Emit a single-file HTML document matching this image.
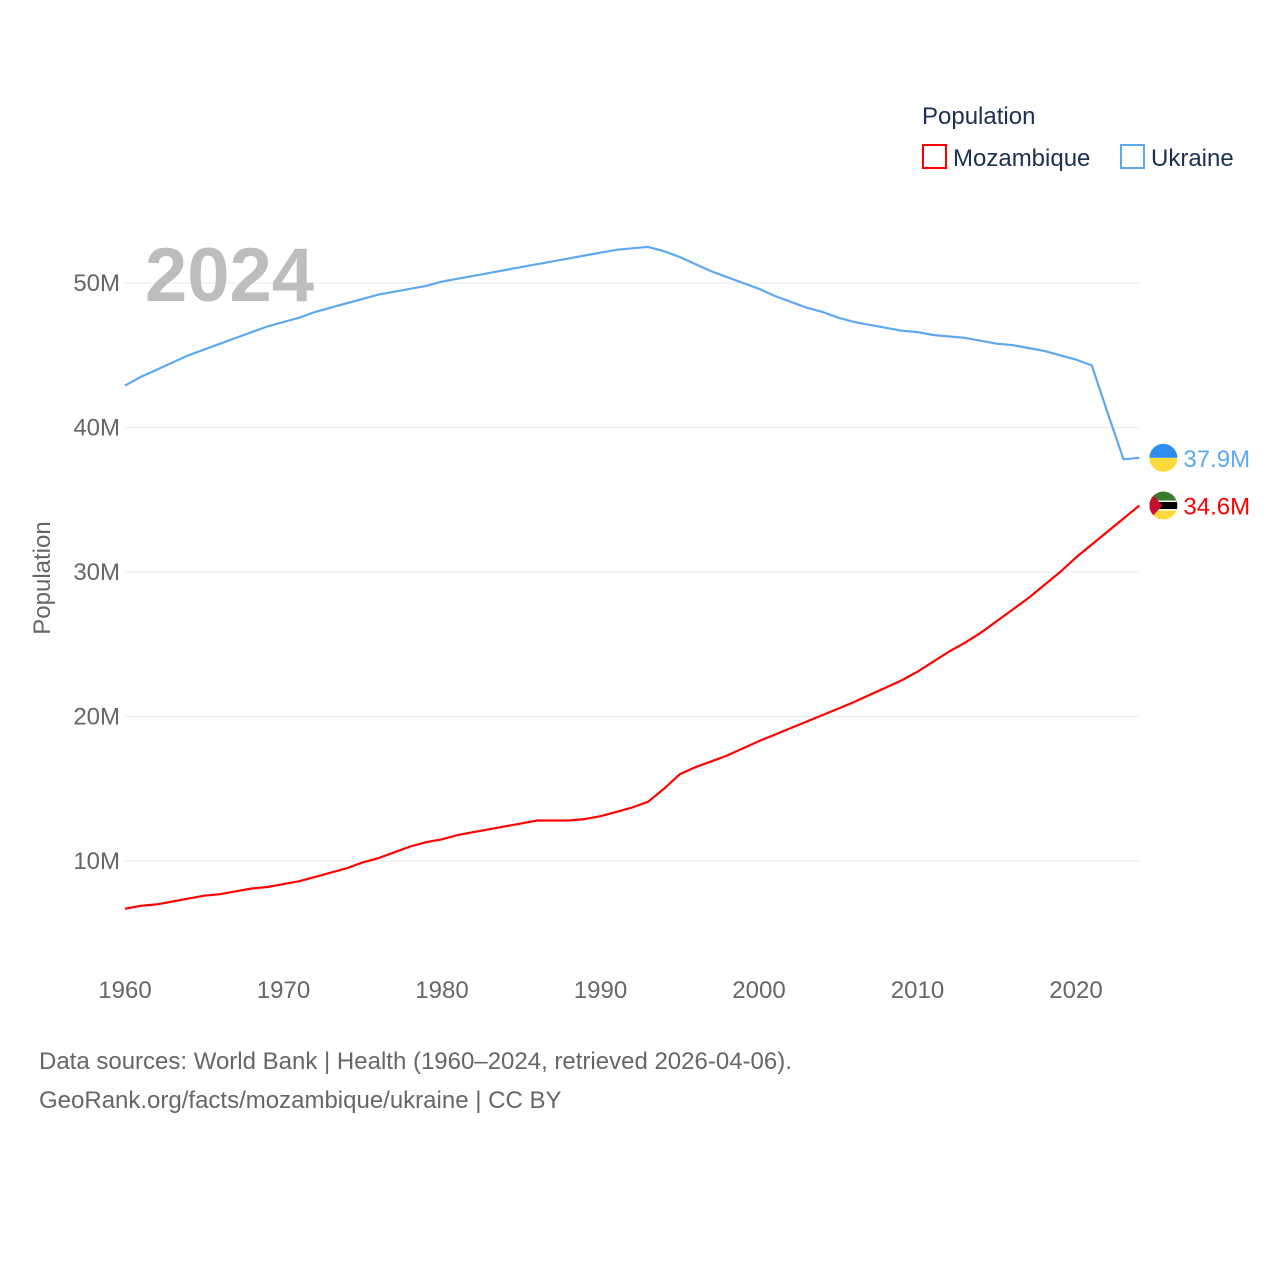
<!DOCTYPE html>
<html><head><meta charset="utf-8"><style>
body{margin:0;background:#fff;}
svg text{font-family:"Liberation Sans",sans-serif;}
</style></head><body>
<svg id="chart" width="1280" height="1280" viewBox="0 0 1280 1280" xmlns="http://www.w3.org/2000/svg">
<g id="grid"></g>
<g id="yticks"></g>
<g id="xticks"></g>
<text x="145" y="301" font-size="76" font-weight="bold" fill="#bdbdbd">2024</text>
<text transform="translate(50,578) rotate(-90)" text-anchor="middle" font-size="24" fill="#666">Population</text>
<g id="series"></g>
<g>
<text x="922" y="124" font-size="24" fill="#1b3050">Population</text>
<rect x="923" y="145" width="23" height="23" fill="none" stroke="#f00" stroke-width="2"/>
<text x="953" y="166" font-size="24" fill="#1b3050">Mozambique</text>
<rect x="1121" y="145" width="23" height="23" fill="none" stroke="#5ea8f0" stroke-width="2"/>
<text x="1151" y="166" font-size="24" fill="#1b3050">Ukraine</text>
</g>
<text x="39" y="1069" font-size="24" fill="#666">Data sources: World Bank | Health (1960–2024, retrieved 2026-04-06).</text>
<text x="39" y="1108" font-size="24" fill="#666">GeoRank.org/facts/mozambique/ukraine | CC BY</text>
</svg>
<script>
const years=[];for(let y=1960;y<=2024;y++)years.push(y);
const ukraine=[42.9,43.5,44.0,44.5,45.0,45.4,45.8,46.2,46.6,47.0,
47.3,47.6,48.0,48.3,48.6,48.9,49.2,49.4,49.6,49.8,
50.1,50.3,50.5,50.7,50.9,51.1,51.3,51.5,51.7,51.9,
52.1,52.3,52.4,52.5,52.2,51.8,51.3,50.8,50.4,50.0,
49.6,49.1,48.7,48.3,48.0,47.6,47.3,47.1,46.9,46.7,
46.6,46.4,46.3,46.2,46.0,45.8,45.7,45.5,45.3,45.0,
44.7,44.3,41.0,37.8,37.9];
const mozambique=[6.7,6.9,7.0,7.2,7.4,7.6,7.7,7.9,8.1,8.2,
8.4,8.6,8.9,9.2,9.5,9.9,10.2,10.6,11.0,11.3,
11.5,11.8,12.0,12.2,12.4,12.6,12.8,12.8,12.8,12.9,
13.1,13.4,13.7,14.1,15.0,16.0,16.5,16.9,17.3,17.8,
18.3,18.75,19.2,19.65,20.1,20.55,21.0,21.5,22.0,22.5,
23.1,23.8,24.5,25.1,25.8,26.6,27.4,28.2,29.1,30.0,
31.0,31.9,32.8,33.7,34.6];
const yTicks=[10,20,30,40,50];
const yTickLabels=["10M","20M","30M","40M","50M"];
const xTicks=[1960,1970,1980,1990,2000,2010,2020];
const endLabels=["37.9M","34.6M"];

const NS="http://www.w3.org/2000/svg";
const X=y=>125+(y-1960)*(1076-125)/60;
const Y=v=>1005.5-v*14.45;
function mk(tag,attrs,parent){const e=document.createElementNS(NS,tag);for(const k in attrs)e.setAttribute(k,attrs[k]);parent.appendChild(e);return e;}
const grid=document.getElementById('grid'),yt=document.getElementById('yticks'),xt=document.getElementById('xticks'),ser=document.getElementById('series');
yTicks.forEach((v,i)=>{
 const l=mk('line',{x1:125,x2:1139,y1:Y(v),y2:Y(v),stroke:'#e8e8e8','stroke-width':1},grid);
 
 
 const t=mk('text',{x:120,y:Y(v)+8,'text-anchor':'end','font-size':24,fill:'#666'},yt);
 
 
 t.textContent=yTickLabels[i];
});
xTicks.forEach(yr=>{
 const t=mk('text',{x:X(yr),y:998,'text-anchor':'middle','font-size':24,fill:'#666'},xt);
 
 
 t.textContent=yr;
});
function line(data,color,name){
 const d=data.map((v,i)=>(i?'L':'M')+X(years[i]).toFixed(1)+','+Y(v).toFixed(1)).join('');
 const p=mk('path',{d:d,fill:'none',stroke:color,'stroke-width':2.2,'stroke-linejoin':'round'},ser);
 
 
}
line(ukraine,'#5ea8f0','line-ukraine');
line(mozambique,'#f00','line-mozambique');
const uy=Y(ukraine[ukraine.length-1]),my=Y(mozambique[mozambique.length-1]);
const lx=X(2024);
const g1=mk('g',{},ser);


mk('path',{d:`M${lx+10},${uy} A14,14 0 0 1 ${lx+38},${uy} Z`,fill:'#2d8cf0'},g1);
mk('path',{d:`M${lx+10},${uy} A14,14 0 0 0 ${lx+38},${uy} Z`,fill:'#ffd83b'},g1);
const t1=mk('text',{x:lx+44,y:uy+9,'font-size':24,fill:'#5ea8f0'},ser);


t1.textContent=endLabels[0];
const g2=mk('g',{},ser);


const cx=lx+24,cy=my;
const clip=mk('clipPath',{id:'mc'},g2);
mk('circle',{cx:cx,cy:cy,r:14},clip);
const inner=mk('g',{'clip-path':'url(#mc)'},g2);
mk('rect',{x:cx-14,y:cy-14,width:28,height:10,fill:'#3a7a2a'},inner);
mk('rect',{x:cx-14,y:cy-4,width:28,height:8,fill:'#000'},inner);
mk('rect',{x:cx-14,y:cy-5,width:28,height:1.5,fill:'#fff'},inner);
mk('rect',{x:cx-14,y:cy+3.5,width:28,height:1.5,fill:'#fff'},inner);
mk('rect',{x:cx-14,y:cy+5,width:28,height:9,fill:'#ffd83b'},inner);
mk('path',{d:`M${cx-14},${cy-14} L${cx-1},${cy} L${cx-14},${cy+14} Z`,fill:'#c8102e'},inner);
const t2=mk('text',{x:lx+44,y:my+9,'font-size':24,fill:'#f00'},ser);


t2.textContent=endLabels[1];
</script>
</body></html>
